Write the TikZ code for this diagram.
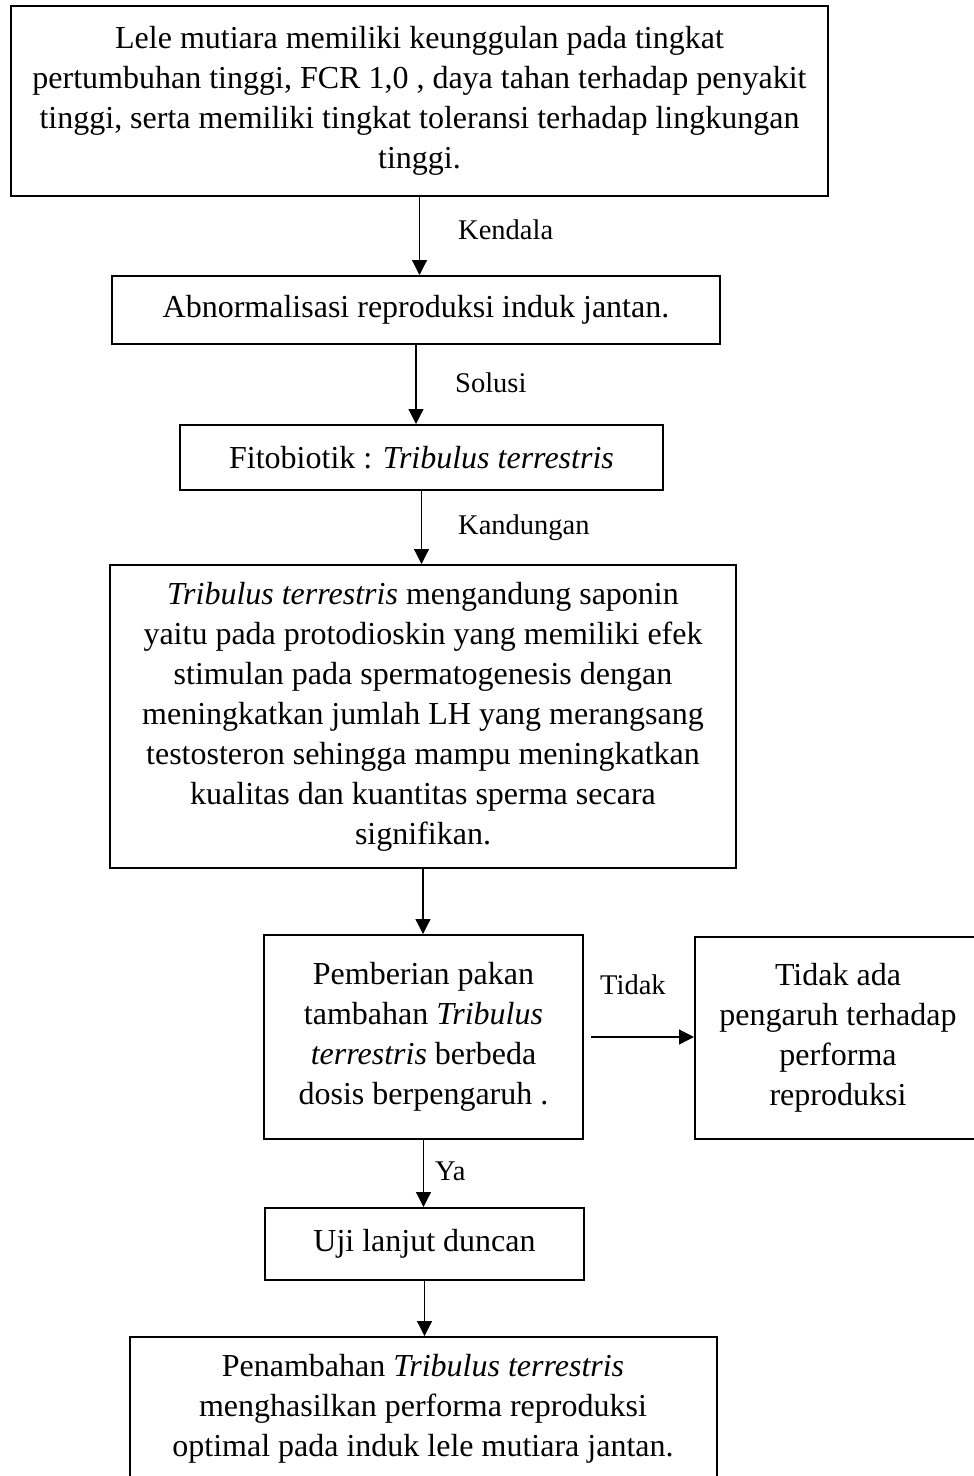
\documentclass[tikz,border=0pt]{standalone}
\usepackage{fontspec}
\setmainfont{Liberation Serif}
\usetikzlibrary{arrows.meta}
\begin{document}
\begin{tikzpicture}[x=1pt,y=-1pt,
  box/.style={draw=black, line width=2pt, align=center, inner sep=0pt,
    font=\fontsize{32}{40}\selectfont},
  lbl/.style={anchor=base west, inner sep=0pt, font=\fontsize{28.5}{34}\selectfont},
  arr/.style={line width=1.2pt, -{Triangle[length=15pt,width=15pt]}}]
\clip (0,0) rectangle (974,1476);
\fill[white] (0,0) rectangle (974,1476);

\node[box, minimum width=817, minimum height=190] (b1) at (419.5,101)
  {Lele mutiara memiliki keunggulan pada tingkat\\
   pertumbuhan tinggi, FCR 1,0 , daya tahan terhadap penyakit\\
   tinggi, serta memiliki tingkat toleransi terhadap lingkungan\\
   tinggi.};
\node[box, minimum width=608, minimum height=68] (b2) at (416,310)
  {Abnormalisasi reproduksi induk jantan.};
\node[box, minimum width=483, minimum height=65] (b3) at (421.5,457.5)
  {Fitobiotik : \textit{Tribulus terrestris}};
\node[box, minimum width=626, minimum height=303] (b4) at (423,716.5)
  {\textit{Tribulus terrestris} mengandung saponin\\
   yaitu pada protodioskin yang memiliki efek\\
   stimulan pada spermatogenesis dengan\\
   meningkatkan jumlah LH yang merangsang\\
   testosteron sehingga mampu meningkatkan\\
   kualitas dan kuantitas sperma secara\\
   signifikan.};
\node[box, minimum width=319, minimum height=204] (b5) at (423.5,1037)
  {Pemberian pakan\\
   tambahan \textit{Tribulus}\\
   \textit{terrestris} berbeda\\
   dosis berpengaruh .};
\node[box, minimum width=286, minimum height=202] (b6) at (838,1038)
  {Tidak ada\\
   pengaruh terhadap\\
   performa\\
   reproduksi};
\node[box, minimum width=319, minimum height=72] (b7) at (424.5,1244)
  {Uji lanjut duncan};
\node[box, minimum width=587, minimum height=144] (b8) at (423,1409)
  {Penambahan \textit{Tribulus terrestris}\\
   menghasilkan performa reproduksi\\
   optimal pada induk lele mutiara jantan.};

\draw[arr] (b1.south) -- (b1.south |- b2.north);
\draw[arr] (b2.south) -- (b2.south |- b3.north);
\draw[arr] (b3.south) -- (b3.south |- b4.north);
\draw[arr] (b4.south) -- (b4.south |- b5.north);
\coordinate (t0) at ([xshift=7pt]b5.east);
\draw[arr] (t0) -- (t0 -| b6.west);
\draw[arr] (b5.south) -- (b5.south |- b7.north);
\draw[arr] (b7.south) -- (b7.south |- b8.north);

\node[lbl] (lk) at (458,239) {Kendala};
\node[lbl] (ls) at (455,392) {Solusi};
\node[lbl] (lka) at (458,534) {Kandungan};
\node[lbl] (lt) at (600,994) {Tidak};
\node[lbl] (ly) at (435,1180) {Ya};
\end{tikzpicture}
\end{document}
